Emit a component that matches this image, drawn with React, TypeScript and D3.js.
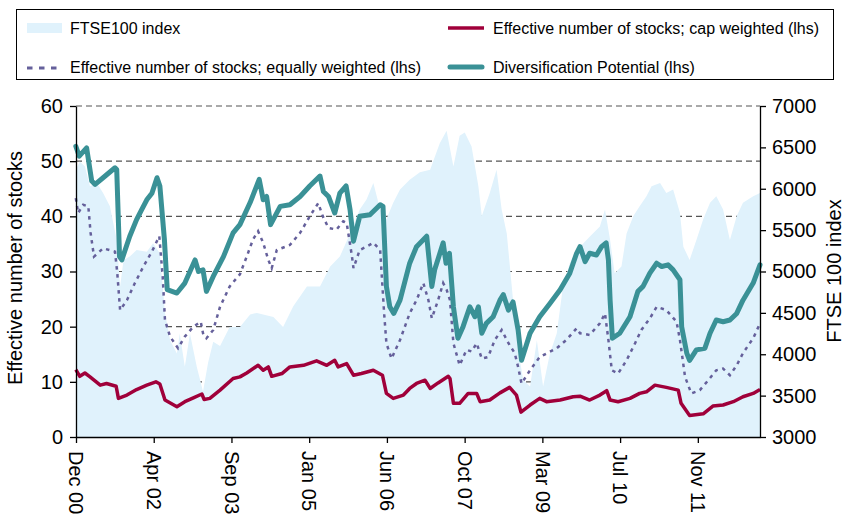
import React, { useEffect, useRef } from 'react';
import * as d3 from 'd3';

// Dates are decimal years
const ftseDates = [2000.95, 2001.02, 2001.11, 2001.20, 2001.32, 2001.43, 2001.55, 2001.67, 2001.73, 2001.79, 2001.90, 2002.02, 2002.20, 2002.31, 2002.43, 2002.52, 2002.61, 2002.73, 2002.78, 2002.87, 2002.96, 2003.08, 2003.19, 2003.28, 2003.37, 2003.49, 2003.66, 2003.84, 2004.02, 2004.14, 2004.43, 2004.60, 2004.78, 2005.02, 2005.25, 2005.43, 2005.60, 2005.78, 2005.95, 2006.07, 2006.19, 2006.31, 2006.42, 2006.54, 2006.66, 2006.83, 2007.01, 2007.19, 2007.36, 2007.48, 2007.60, 2007.71, 2007.80, 2007.92, 2008.04, 2008.10, 2008.24, 2008.36, 2008.45, 2008.54, 2008.65, 2008.74, 2008.83, 2008.95, 2009.07, 2009.18, 2009.30, 2009.42, 2009.53, 2009.65, 2009.77, 2009.89, 2010.00, 2010.18, 2010.27, 2010.36, 2010.44, 2010.56, 2010.65, 2010.77, 2010.88, 2011.00, 2011.09, 2011.24, 2011.35, 2011.47, 2011.59, 2011.65, 2011.76, 2011.88, 2012.00, 2012.12, 2012.23, 2012.35, 2012.47, 2012.59, 2012.70, 2012.88, 2013.00];
const ftseValues = [6230, 6330, 6270, 6030, 6070, 5950, 5790, 5380, 4820, 5140, 5180, 5260, 5240, 5340, 5220, 4500, 4170, 4010, 4250, 3850, 4250, 3850, 3550, 3900, 4150, 4100, 4330, 4330, 4480, 4500, 4450, 4330, 4580, 4820, 4820, 5060, 5180, 5460, 5750, 5870, 6070, 5750, 5630, 5830, 5990, 6110, 6200, 6230, 6550, 6700, 6270, 6640, 6680, 6510, 6030, 5670, 5950, 6230, 5750, 5460, 4660, 4050, 3690, 3610, 4170, 3610, 4010, 4250, 4820, 5100, 5260, 5340, 5420, 5545, 5750, 5380, 4980, 5060, 5460, 5670, 5790, 5910, 6030, 6070, 5950, 5990, 5710, 5300, 5140, 5380, 5630, 5830, 5910, 5750, 5380, 5670, 5830, 5910, 5950];

const capDates = [2000.95, 2001.02, 2001.11, 2001.20, 2001.38, 2001.49, 2001.66, 2001.70, 2001.85, 2002.02, 2002.20, 2002.36, 2002.43, 2002.52, 2002.73, 2002.87, 2003.02, 2003.17, 2003.21, 2003.31, 2003.49, 2003.72, 2003.84, 2003.96, 2004.16, 2004.25, 2004.34, 2004.40, 2004.58, 2004.72, 2004.96, 2005.19, 2005.37, 2005.51, 2005.57, 2005.72, 2005.84, 2005.98, 2006.19, 2006.35, 2006.42, 2006.54, 2006.72, 2006.83, 2006.95, 2007.10, 2007.19, 2007.33, 2007.51, 2007.54, 2007.60, 2007.71, 2007.86, 2008.01, 2008.07, 2008.24, 2008.42, 2008.59, 2008.71, 2008.79, 2008.95, 2009.12, 2009.24, 2009.48, 2009.71, 2009.83, 2010.00, 2010.18, 2010.30, 2010.36, 2010.50, 2010.71, 2010.88, 2011.00, 2011.15, 2011.35, 2011.56, 2011.61, 2011.76, 2012.00, 2012.17, 2012.35, 2012.53, 2012.70, 2012.88, 2013.00];
const capValues = [12.2, 11, 11.6, 10.9, 9.4, 9.7, 9.2, 7, 7.6, 8.6, 9.4, 10, 9.6, 6.7, 5.5, 6.4, 7.1, 7.8, 6.8, 7, 8.5, 10.6, 10.9, 11.6, 13, 12.1, 12.7, 11, 11.5, 12.7, 13, 13.8, 13, 13.9, 12.7, 13.3, 11.2, 11.5, 12.1, 11.2, 7.9, 7, 7.6, 8.8, 9.7, 10.3, 8.8, 9.8, 11, 10.6, 6.1, 6.1, 7.9, 7.9, 6.4, 6.7, 8, 9, 7.6, 4.5, 5.8, 7, 6.4, 6.7, 7.3, 7.4, 6.7, 7.6, 8.4, 6.7, 6.4, 7, 7.9, 8.2, 9.4, 9, 8.5, 6.1, 3.9, 4.2, 5.6, 5.8, 6.4, 7.3, 7.9, 8.6];

const equalDates = [2000.95, 2000.99, 2001.08, 2001.17, 2001.21, 2001.27, 2001.43, 2001.64, 2001.68, 2001.73, 2001.85, 2001.99, 2002.14, 2002.29, 2002.42, 2002.48, 2002.52, 2002.61, 2002.75, 2002.87, 2003.02, 2003.15, 2003.19, 2003.25, 2003.37, 2003.49, 2003.66, 2003.84, 2003.96, 2004.07, 2004.16, 2004.25, 2004.34, 2004.40, 2004.49, 2004.72, 2004.90, 2005.07, 2005.22, 2005.30, 2005.40, 2005.54, 2005.66, 2005.72, 2005.81, 2005.84, 2005.95, 2006.07, 2006.19, 2006.31, 2006.38, 2006.42, 2006.51, 2006.66, 2006.83, 2006.95, 2007.07, 2007.16, 2007.22, 2007.33, 2007.42, 2007.48, 2007.54, 2007.60, 2007.71, 2007.83, 2007.92, 2008.01, 2008.10, 2008.21, 2008.33, 2008.45, 2008.57, 2008.68, 2008.74, 2008.80, 2008.95, 2009.12, 2009.42, 2009.59, 2009.77, 2009.83, 2010.00, 2010.18, 2010.27, 2010.33, 2010.39, 2010.50, 2010.65, 2010.80, 2010.91, 2011.06, 2011.18, 2011.35, 2011.53, 2011.59, 2011.68, 2011.79, 2011.94, 2012.09, 2012.23, 2012.35, 2012.47, 2012.59, 2012.70, 2012.88, 2013.00];
const equalValues = [43.3, 40.6, 42.1, 41.8, 37, 32.7, 34.2, 33.6, 29.7, 23, 24.8, 27.9, 30.9, 33.6, 36.4, 29.1, 21.2, 18.2, 16.1, 18.2, 20, 20.9, 18.8, 17.9, 19.4, 23.6, 27.3, 29.5, 32.7, 35.8, 37.3, 35.2, 32.1, 30.6, 33.9, 34.8, 37, 40, 42.4, 40, 37.9, 37.6, 39.1, 38.8, 33, 30.6, 33.9, 34.5, 35.2, 33.9, 22.4, 17, 14.2, 17.6, 22.4, 24.8, 27.9, 24.8, 21.5, 24.8, 27.9, 26.7, 24.8, 17, 13, 15.8, 15.5, 17, 14.2, 14.5, 17.6, 19.4, 17, 15.2, 12.7, 9.7, 12.1, 14.5, 16.1, 17.6, 19.7, 18.8, 18.5, 20.6, 22.4, 17.6, 12.1, 11.5, 13.9, 17, 19.4, 21.5, 23.6, 23, 20.9, 17.6, 10.9, 7.9, 8.5, 10.3, 12.1, 12.4, 11.2, 13, 15.2, 17.9, 20.6];

const divDates = [2000.95, 2001.01, 2001.14, 2001.23, 2001.29, 2001.43, 2001.64, 2001.67, 2001.72, 2001.76, 2001.90, 2002.02, 2002.11, 2002.20, 2002.29, 2002.38, 2002.43, 2002.51, 2002.56, 2002.73, 2002.87, 2003.05, 2003.11, 2003.19, 2003.25, 2003.37, 2003.55, 2003.72, 2003.84, 2004.02, 2004.18, 2004.25, 2004.31, 2004.38, 2004.55, 2004.72, 2004.90, 2005.07, 2005.25, 2005.31, 2005.40, 2005.51, 2005.60, 2005.71, 2005.78, 2005.84, 2005.95, 2006.13, 2006.22, 2006.31, 2006.36, 2006.42, 2006.48, 2006.55, 2006.66, 2006.83, 2006.95, 2007.13, 2007.22, 2007.27, 2007.42, 2007.47, 2007.53, 2007.60, 2007.68, 2007.77, 2007.89, 2007.98, 2008.04, 2008.10, 2008.18, 2008.30, 2008.42, 2008.48, 2008.57, 2008.65, 2008.74, 2008.80, 2008.95, 2009.12, 2009.30, 2009.48, 2009.65, 2009.77, 2009.83, 2009.92, 2010.00, 2010.12, 2010.21, 2010.29, 2010.33, 2010.36, 2010.40, 2010.53, 2010.71, 2010.85, 2010.94, 2011.06, 2011.18, 2011.27, 2011.38, 2011.47, 2011.59, 2011.62, 2011.71, 2011.76, 2011.88, 2012.03, 2012.12, 2012.23, 2012.35, 2012.47, 2012.59, 2012.70, 2012.88, 2013.00];
const divValues = [52.7, 50.9, 52.4, 46.4, 45.8, 47, 48.8, 48.5, 32.7, 32.1, 36.4, 39.4, 41.2, 43, 44.2, 47, 45.5, 35.8, 26.7, 26.1, 27.9, 32.1, 30, 30.3, 26.4, 29.1, 32.7, 37, 38.5, 42.5, 46.7, 43, 43.6, 38.5, 41.8, 42.1, 43.6, 45.5, 47.3, 44.5, 43.6, 40.6, 44.2, 45.5, 41.2, 35.5, 40, 40.3, 41.2, 42.1, 41.8, 27.3, 23.6, 22.4, 24.8, 31.5, 34.5, 36.4, 27.3, 30.3, 35.2, 31.5, 33.3, 23.6, 17.9, 20, 23.6, 21.8, 23.6, 18.8, 20.6, 21.8, 24.8, 25.8, 23, 24.5, 19.4, 13.9, 18.8, 21.8, 24.2, 26.7, 29.7, 33.3, 34.5, 31.8, 33.3, 33, 34.5, 35.2, 32.1, 24.8, 17.9, 18.8, 21.8, 26.4, 27.3, 29.7, 31.5, 30.9, 31.2, 30.3, 28.5, 20, 15.2, 13.9, 15.8, 16.1, 18.8, 21.2, 20.9, 21.2, 22.4, 24.8, 27.9, 31.2];

const tickDates = [2000.953, 2002.322, 2003.691, 2005.060, 2006.429, 2007.798, 2009.167, 2010.536, 2011.905];
const tickLabels = ['Dec 00', 'Apr 02', 'Sep 03', 'Jan 05', 'Jun 06', 'Oct 07', 'Mar 09', 'Jul 10', 'Nov 11'];
const leftTicks = [0, 10, 20, 30, 40, 50, 60];
const rightTicks = [3000, 3500, 4000, 4500, 5000, 5500, 6000, 6500, 7000];

const FONT = 'Liberation Sans, Arial, Helvetica, sans-serif';
const AREA = '#e0f2fc';
const RED = '#a0003a';
const TEAL = '#3a9196';
const PURPLE = '#65609b';

const App = () => {
  const ref = useRef(null);

  useEffect(() => {
    const svg = d3.select(ref.current);
    svg.selectAll('*').remove();

    const x = d3.scaleLinear().domain([2000.953, 2013.0]).range([76, 760]);
    const yL = d3.scaleLinear().domain([0, 60]).range([437, 106]);
    const yR = d3.scaleLinear().domain([3000, 7000]).range([437, 106]);

    // dashed grid lines (behind the area)
    svg
      .append('g')
      .selectAll('line')
      .data(leftTicks.slice(1))
      .join('line')
      .attr('x1', 76)
      .attr('x2', 760)
      .attr('y1', (d) => yL(d))
      .attr('y2', (d) => yL(d))
      .attr('stroke', '#555')
      .attr('stroke-width', 1.2)
      .attr('stroke-dasharray', '6,4');

    // FTSE area
    const area = d3
      .area()
      .x((d, i) => x(ftseDates[i]))
      .y0(yR(3000))
      .y1((d) => yR(d));
    svg.append('path').datum(ftseValues).attr('d', area).attr('fill', AREA);

    const line = (dates) =>
      d3
        .line()
        .x((d, i) => x(dates[i]))
        .y((d) => yL(d));

    svg
      .append('path')
      .datum(equalValues)
      .attr('d', line(equalDates))
      .attr('fill', 'none')
      .attr('stroke', PURPLE)
      .attr('stroke-width', 2.5)
      .attr('stroke-dasharray', '3.5,4.5');

    svg
      .append('path')
      .datum(capValues)
      .attr('d', line(capDates))
      .attr('fill', 'none')
      .attr('stroke', RED)
      .attr('stroke-width', 3.5)
      .attr('stroke-linejoin', 'round');

    svg
      .append('path')
      .datum(divValues)
      .attr('d', line(divDates))
      .attr('fill', 'none')
      .attr('stroke', TEAL)
      .attr('stroke-width', 5)
      .attr('stroke-linejoin', 'round')
      .attr('stroke-linecap', 'round');

    // axes
    const styleAxis = (g) => {
      g.selectAll('path').attr('stroke', '#000').attr('stroke-width', 1.3);
      g.selectAll('line').attr('stroke', '#000').attr('stroke-width', 1.3);
      g.selectAll('text').attr('font-size', 20).attr('font-family', FONT).attr('fill', '#000');
    };

    const left = svg
      .append('g')
      .attr('transform', 'translate(76,0)')
      .call(d3.axisLeft(yL).tickValues(leftTicks).tickSize(6).tickSizeOuter(0).tickPadding(7));
    styleAxis(left);

    const right = svg
      .append('g')
      .attr('transform', 'translate(760,0)')
      .call(
        d3
          .axisRight(yR)
          .tickValues(rightTicks)
          .tickFormat(d3.format('d'))
          .tickSize(6)
          .tickSizeOuter(0)
          .tickPadding(6)
      );
    styleAxis(right);

    const bottom = svg
      .append('g')
      .attr('transform', 'translate(0,437)')
      .call(
        d3
          .axisBottom(x)
          .tickValues(tickDates)
          .tickFormat((d, i) => tickLabels[i])
          .tickSize(6)
          .tickSizeOuter(0)
      );
    styleAxis(bottom);
    bottom
      .selectAll('text')
      .attr('transform', 'rotate(90)')
      .attr('x', 14)
      .attr('y', 0)
      .attr('dy', '0.36em')
      .attr('text-anchor', 'start');

    // axis titles
    svg
      .append('text')
      .attr('transform', 'translate(22,268) rotate(-90)')
      .attr('text-anchor', 'middle')
      .attr('font-size', 20)
      .attr('font-family', FONT)
      .text('Effective number of stocks');
    svg
      .append('text')
      .attr('transform', 'translate(841,271) rotate(-90)')
      .attr('text-anchor', 'middle')
      .attr('font-size', 20)
      .attr('font-family', FONT)
      .text('FTSE 100 index');

    // legend
    const lg = svg.append('g');
    lg.append('rect')
      .attr('x', 16.5)
      .attr('y', 9.5)
      .attr('width', 817)
      .attr('height', 70)
      .attr('fill', '#fff')
      .attr('stroke', '#000')
      .attr('stroke-width', 1);
    lg.append('rect').attr('x', 27).attr('y', 23).attr('width', 35).attr('height', 10).attr('fill', AREA);
    lg.append('line')
      .attr('x1', 448).attr('x2', 484).attr('y1', 28).attr('y2', 28)
      .attr('stroke', RED).attr('stroke-width', 3.5);
    lg.append('line')
      .attr('x1', 27).attr('x2', 60).attr('y1', 68).attr('y2', 68)
      .attr('stroke', PURPLE).attr('stroke-width', 3).attr('stroke-dasharray', '5.5,6.5');
    lg.append('line')
      .attr('x1', 450).attr('x2', 482).attr('y1', 67).attr('y2', 67)
      .attr('stroke', TEAL).attr('stroke-width', 5).attr('stroke-linecap', 'round');
    const items = [
      ['FTSE100 index', 70, 28],
      ['Effective number of stocks; cap weighted (lhs)', 493, 28],
      ['Effective number of stocks; equally weighted (lhs)', 70, 67],
      ['Diversification Potential (lhs)', 493, 67],
    ];
    lg.selectAll('text.item')
      .data(items)
      .join('text')
      .attr('class', 'item')
      .attr('x', (d) => d[1])
      .attr('y', (d) => d[2])
      .attr('dy', '0.35em')
      .attr('font-size', 16)
      .attr('font-family', FONT)
      .text((d) => d[0]);
  }, []);

  return (
    <svg
      ref={ref}
      width={846}
      height={519}
      style={{ position: 'absolute', left: 0, top: 0, background: '#fff' }}
    />
  );
};

export default App;
